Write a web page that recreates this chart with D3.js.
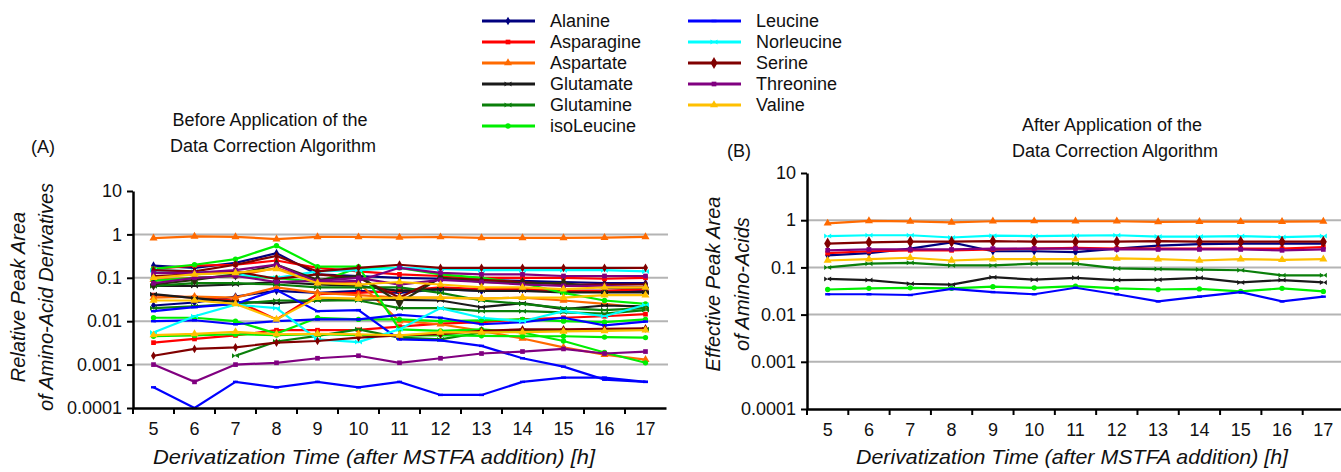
<!DOCTYPE html>
<meta charset="utf-8">
<title>Amino acid peak areas</title>
<style>
  body { margin: 0; background: #fff; }
  text { font-family: Arial, "Liberation Sans", sans-serif; fill: #111; }
</style>
<body>
<script src="https://d3js.org/d3.v7.min.js"></script>
<script>
const width = 1341;
const height = 472;

// x categories (hours) and y tick values
const hours = [5, 6, 7, 8, 9, 10, 11, 12, 13, 14, 15, 16, 17];
const yTicks = [0.0001, 0.001, 0.01, 0.1, 1, 10];
const yTickLabels = ["0.0001", "0.001", "0.01", "0.1", "1", "10"];

const acids = ["Alanine", "Asparagine", "Aspartate", "Glutamate", "Glutamine", "isoLeucine",
               "Leucine", "Norleucine", "Serine", "Threonine", "Valine"];
const colors = ["#00007f", "#ff0000", "#ff6a00", "#1a1a1a", "#0a7f0a", "#00ee00",
                "#0000ff", "#00ffff", "#800000", "#800080", "#ffc000"];
const markers = ["diamond", "square", "triangle", "bowtie", "bowtie", "circle",
                 "dash", "bowtie", "bigdiamond", "square", "triangle"];

// (A) before correction: several derivatives per amino acid
const alanineA = [
  [0.19, 0.17, 0.22, 0.37, 0.12, 0.11, 0.1, 0.095, 0.09, 0.085, 0.08, 0.075, 0.075],
  [0.023, 0.027, 0.037, 0.05, 0.045, 0.05, 0.045, 0.055, 0.05, 0.055, 0.05, 0.05, 0.05]
];
const asparagineA = [
  [0.16, 0.19, 0.2, 0.25, 0.17, 0.14, 0.12, 0.11, 0.1, 0.1, 0.1, 0.095, 0.1],
  [0.04, 0.035, 0.03, 0.011, 0.042, 0.045, 0.05, 0.06, 0.055, 0.055, 0.05, 0.05, 0.055],
  [0.0032, 0.0039, 0.0047, 0.0062, 0.0062, 0.0063, 0.0075, 0.0088, 0.0095, 0.011, 0.012, 0.013, 0.0145]
];
const aspartateA = [
  [0.82, 0.9, 0.88, 0.78, 0.88, 0.87, 0.85, 0.87, 0.83, 0.83, 0.83, 0.84, 0.88],
  [0.09, 0.1, 0.11, 0.17, 0.08, 0.078, 0.01, 0.0085, 0.006, 0.004, 0.0025, 0.0017, 0.0013],
  [0.035, 0.037, 0.035, 0.06, 0.045, 0.04, 0.035, 0.035, 0.033, 0.035, 0.03, 0.025, 0.02]
];
const glutamateA = [
  [0.042, 0.034, 0.028, 0.026, 0.03, 0.032, 0.031, 0.03, 0.021, 0.026, 0.019, 0.023, 0.022],
  [0.065, 0.065, 0.07, 0.08, 0.07, 0.065, 0.05, 0.055, 0.05, 0.05, 0.046, 0.046, 0.046]
];
const glutamineA = [
  [0.065, 0.075, 0.075, 0.07, 0.06, 0.06, 0.06, 0.045, 0.03, 0.025, 0.02, 0.018, 0.02],
  [0.02, 0.022, 0.025, 0.03, 0.03, 0.03, 0.02, 0.02, 0.017, 0.017, 0.016, 0.015, 0.018],
  [null, null, 0.0016, 0.0034, 0.0046, 0.0065, 0.0042, 0.0038, 0.0055, 0.006, 0.006, 0.0062, 0.0065]
];
const isoleucineA = [
  [0.16, 0.2, 0.27, 0.55, 0.18, 0.18, 0.0065, 0.006, 0.0065, 0.0055, 0.0035, 0.0019, 0.0011],
  [0.085, 0.1, 0.11, 0.1, 0.08, 0.17, 0.17, 0.12, 0.1, 0.075, 0.045, 0.03, 0.025],
  [0.012, 0.012, 0.01, 0.0052, 0.012, 0.011, 0.011, 0.01, 0.0105, 0.011, 0.01, 0.0095, 0.011],
  [0.0045, 0.0047, 0.005, 0.0048, 0.005, 0.0048, 0.0046, 0.0048, 0.0046, 0.0045, 0.0045, 0.0043, 0.0042]
];
const leucineA = [
  [0.0003, 0.0001, 0.0004, 0.0003, 0.0004, 0.0003, 0.0004, 0.0002, 0.0002, 0.0004, 0.0005, 0.0005, 0.0004],
  [0.01, 0.0105, 0.0085, 0.01, 0.011, 0.011, 0.014, 0.012, 0.0085, 0.0095, 0.012, 0.008, 0.0098],
  [0.017, 0.021, 0.025, 0.052, 0.017, 0.018, 0.0038, 0.0036, 0.0027, 0.0014, 0.0009, 0.00045, 0.0004]
];
const norleucineA = [
  [0.15, 0.14, 0.12, 0.1, 0.14, 0.15, 0.17, 0.16, 0.15, 0.15, 0.15, 0.15, 0.14],
  [0.0055, 0.013, 0.024, 0.02, 0.0038, 0.0033, 0.0065, 0.02, 0.012, 0.01, 0.017, 0.013, 0.024]
];
const serineA = [
  [0.15, 0.14, 0.2, 0.32, 0.14, 0.17, 0.2, 0.17, 0.17, 0.17, 0.17, 0.17, 0.17],
  [0.11, 0.12, 0.14, 0.095, 0.12, 0.1, 0.035, 0.1, 0.09, 0.08, 0.07, 0.07, 0.07],
  [0.0016, 0.0023, 0.0025, 0.0032, 0.0035, 0.0042, 0.0047, 0.005, 0.006, 0.0065, 0.0065, 0.0067, 0.0068]
];
const threonineA = [
  [0.13, 0.13, 0.15, 0.2, 0.08, 0.085, 0.17, 0.13, 0.12, 0.12, 0.11, 0.11, 0.11],
  [0.075, 0.1, 0.11, 0.08, 0.085, 0.1, 0.07, 0.09, 0.08, 0.07, 0.065, 0.065, 0.06],
  [0.001, 0.0004, 0.001, 0.0011, 0.0014, 0.0016, 0.0011, 0.0014, 0.0018, 0.002, 0.0023, 0.0018, 0.002]
];
const valineA = [
  [0.03, 0.03, 0.025, 0.011, 0.035, 0.033, 0.035, 0.035, 0.033, 0.035, 0.035, 0.04, 0.04],
  [0.1, 0.12, 0.13, 0.16, 0.075, 0.07, 0.08, 0.07, 0.06, 0.06, 0.055, 0.06, 0.06],
  [0.0048, 0.0051, 0.0057, 0.005, 0.0051, 0.005, 0.0047, 0.0055, 0.0055, 0.0056, 0.0058, 0.006, 0.0062]
];
// the dark big-diamond derivative line in panel A
const darkDiamondA = [0.07, 0.09, 0.12, 0.2, 0.09, 0.11, 0.027, 0.1, 0.08, 0.075, 0.075, 0.059, 0.059];

// (B) after correction: one line per amino acid
const alanineB = [0.18, 0.2, 0.25, 0.34, 0.22, 0.22, 0.21, 0.25, 0.29, 0.31, 0.32, 0.32, 0.32];
const asparagineB = [0.2, 0.22, 0.23, 0.23, 0.24, 0.25, 0.26, 0.25, 0.25, 0.25, 0.25, 0.25, 0.27];
const aspartateB = [0.86, 0.97, 0.94, 0.9, 0.95, 0.96, 0.95, 0.95, 0.92, 0.93, 0.93, 0.93, 0.94];
const glutamateB = [0.057, 0.054, 0.045, 0.043, 0.062, 0.055, 0.06, 0.054, 0.055, 0.06, 0.048, 0.054, 0.048];
const glutamineB = [0.1, 0.12, 0.125, 0.11, 0.11, 0.12, 0.12, 0.095, 0.092, 0.09, 0.087, 0.068, 0.068];
const isoleucineB = [0.034, 0.036, 0.037, 0.036, 0.039, 0.037, 0.04, 0.036, 0.034, 0.035, 0.031, 0.036, 0.031];
const leucineB = [0.027, 0.027, 0.026, 0.035, 0.03, 0.027, 0.037, 0.027, 0.019, 0.024, 0.03, 0.019, 0.024];
const norleucineB = [0.46, 0.48, 0.48, 0.43, 0.47, 0.46, 0.47, 0.48, 0.45, 0.45, 0.46, 0.44, 0.46];
const serineB = [0.32, 0.34, 0.35, 0.35, 0.36, 0.35, 0.35, 0.35, 0.36, 0.35, 0.35, 0.35, 0.35];
const threonineB = [0.23, 0.24, 0.24, 0.24, 0.25, 0.25, 0.25, 0.24, 0.24, 0.24, 0.24, 0.23, 0.24];
const valineB = [0.14, 0.15, 0.16, 0.14, 0.15, 0.15, 0.15, 0.155, 0.15, 0.14, 0.15, 0.145, 0.15];

const panelAData = [alanineA, asparagineA, aspartateA, glutamateA, glutamineA, isoleucineA,
                    leucineA, norleucineA, serineA, threonineA, valineA];
const panelBData = [alanineB, asparagineB, aspartateB, glutamateB, glutamineB, isoleucineB,
                    leucineB, norleucineB, serineB, threonineB, valineB];

const svg = d3.select("body").append("svg")
  .attr("width", width)
  .attr("height", height);

// marker shapes
function markerPath(kind) {
  if (kind === "diamond") return d3.symbol(d3.symbolDiamond, 22)();
  if (kind === "bigdiamond") return d3.symbol(d3.symbolDiamond, 42)();
  if (kind === "square") return d3.symbol(d3.symbolSquare, 22)();
  if (kind === "triangle") return d3.symbol(d3.symbolTriangle, 28)();
  if (kind === "circle") return d3.symbol(d3.symbolCircle, 22)();
  if (kind === "bowtie") return "M-3.5,-2.5L3.5,2.5L3.5,-2.5L-3.5,2.5Z";
  return "M-2.5,-1.2H2.5V1.2H-2.5Z";
}

function drawPanel(p) {
  const g = svg.append("g");
  const x = d3.scaleBand().domain(hours).range([p.left, p.right]);
  const y = d3.scaleLog().domain([0.0001, 10]).range([p.bottom, p.top]);

  // grey gridlines
  g.append("g").selectAll("line")
    .data(yTicks.slice(1, 5))
    .join("line")
    .attr("x1", p.left).attr("x2", p.gridEnd)
    .attr("y1", d => y(d)).attr("y2", d => y(d))
    .attr("stroke", "#b4b4b4").attr("stroke-width", 2);

  const line = d3.line()
    .defined(d => d.v != null)
    .x(d => x(d.h) + x.bandwidth() / 2)
    .y(d => y(d.v));

  p.series.forEach(s => {
    const pts = hours.map((h, i) => ({ h: h, v: s.values[i] }));
    g.append("path")
      .datum(pts)
      .attr("d", line)
      .attr("fill", "none")
      .attr("stroke", s.color)
      .attr("stroke-width", 2.2);
    g.append("g").selectAll("path")
      .data(pts.filter(d => d.v != null))
      .join("path")
      .attr("transform", d => `translate(${x(d.h) + x.bandwidth() / 2},${y(d.v)})`)
      .attr("d", markerPath(s.marker))
      .attr("fill", s.color);
  });

  // axes
  const xAxis = d3.axisBottom(x).tickSize(0).tickPadding(14);
  const gx = g.append("g")
    .attr("transform", `translate(0,${p.bottom})`)
    .call(xAxis);
  gx.select(".domain").attr("stroke", "#000").attr("stroke-width", 2.5);
  gx.selectAll("text").attr("font-size", 18).attr("fill", "#111");
  gx.append("g").selectAll("line")
    .data(hours)
    .join("line")
    .attr("x1", d => x(d)).attr("x2", d => x(d))
    .attr("y1", 0).attr("y2", 6)
    .attr("stroke", "#000").attr("stroke-width", 2);

  const yAxis = d3.axisLeft(y).tickValues(yTicks)
    .tickFormat((d, i) => yTickLabels[i]).tickSize(6).tickSizeOuter(0).tickPadding(5);
  const gy = g.append("g")
    .attr("transform", `translate(${p.left},0)`)
    .call(yAxis);
  gy.select(".domain").attr("stroke", "#000").attr("stroke-width", 2.5);
  gy.selectAll(".tick line").attr("stroke", "#000").attr("stroke-width", 2);
  gy.selectAll("text").attr("font-size", 18).attr("fill", "#111");

  // titles
  g.append("text").attr("x", p.titleX).attr("y", p.titleY).attr("text-anchor", "middle")
    .attr("font-size", 18).text(p.title[0]);
  g.append("text").attr("x", p.titleX + 3).attr("y", p.titleY + 26).attr("text-anchor", "middle")
    .attr("font-size", 18).text(p.title[1]);
  g.append("text").attr("x", p.tagX).attr("y", p.tagY).attr("font-size", 18).text(p.tag);

  g.append("text")
    .attr("x", p.xLabelX).attr("y", 464).attr("text-anchor", "middle")
    .attr("font-size", 21).attr("font-style", "italic")
    .attr("textLength", p.xLabelLen).attr("lengthAdjust", "spacingAndGlyphs")
    .text("Derivatization Time (after MSTFA addition) [h]");

  p.yLabel.forEach((t, i) => {
    g.append("text")
      .attr("transform", `translate(${p.yLabelX[i]},${p.yLabelY}) rotate(-90)`)
      .attr("text-anchor", "middle")
      .attr("font-size", 20).attr("font-style", "italic")
      .text(t);
  });
}

// panel A series: every derivative line of every amino acid
const seriesA = [];
panelAData.forEach((group, k) => {
  group.forEach(vals => seriesA.push({ values: vals, color: colors[k], marker: markers[k] === "bigdiamond" ? "diamond" : markers[k] }));
  if (k === 8) seriesA.push({ values: darkDiamondA, color: "#2b2b10", marker: "bigdiamond" });
});
const seriesB = panelBData.map((vals, k) => ({ values: vals, color: colors[k], marker: markers[k] }));

drawPanel({
  left: 133, right: 666, top: 191, bottom: 408, gridEnd: 668,
  series: seriesA,
  title: ["Before Application of the", "Data Correction Algorithm"], titleX: 270, titleY: 126,
  tag: "(A)", tagX: 31, tagY: 153,
  xLabelX: 374, xLabelLen: 442,
  yLabel: ["Relative Peak Area", "of Amino-Acid Derivatives"], yLabelX: [25, 53], yLabelY: 297
});
drawPanel({
  left: 807, right: 1344, top: 173, bottom: 409, gridEnd: 1341,
  series: seriesB,
  title: ["After Application of the", "Data Correction Algorithm"], titleX: 1112, titleY: 131,
  tag: "(B)", tagX: 727, tagY: 157,
  xLabelX: 1072, xLabelLen: 432,
  yLabel: ["Effective Peak Area", "of Amino-Acids"], yLabelX: [720, 749], yLabelY: 284
});

// legend, two columns
const legend = svg.append("g");
acids.forEach((name, i) => {
  const col = i < 6 ? 0 : 1;
  const row = i < 6 ? i : i - 6;
  const lx = col === 0 ? 482 : 688;
  const ly = 21 + row * 21;
  legend.append("line")
    .attr("x1", lx).attr("x2", lx + 53).attr("y1", ly).attr("y2", ly)
    .attr("stroke", colors[i]).attr("stroke-width", 3);
  legend.append("path")
    .attr("transform", `translate(${lx + 26},${ly})`)
    .attr("d", markerPath(markers[i]))
    .attr("fill", colors[i]);
  legend.append("text")
    .attr("x", lx + 68).attr("y", ly + 6)
    .attr("font-size", 18)
    .text(name);
});
</script>
</body>
